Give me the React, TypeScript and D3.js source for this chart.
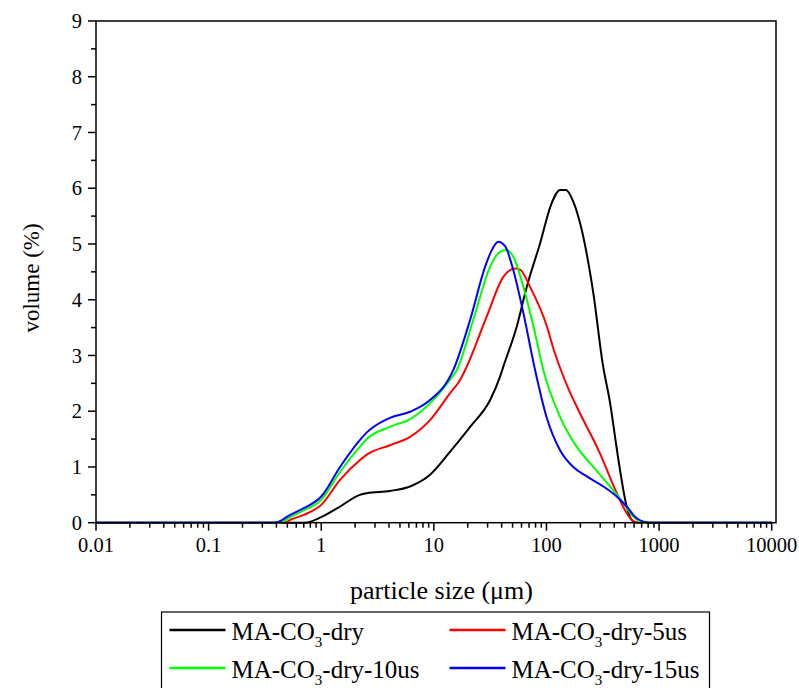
import React from "react";
import * as d3 from "d3";

// ---- data ----
const blackX = [0.01, 0.72, 1.0, 1.47, 2.2, 2.54, 4.08, 6.15, 9.25, 13.9, 21, 31.6, 38.7, 41.4, 54.5, 66.8, 87.7, 111, 132, 149, 173, 199, 261, 316, 367, 436, 516, 572, 650, 10000];
const blackY = [0, 0, 0.1, 0.29, 0.5, 0.53, 0.57, 0.65, 0.86, 1.27, 1.72, 2.2, 2.62, 2.8, 3.52, 4.23, 5.01, 5.73, 5.97, 5.97, 5.76, 5.37, 4.11, 2.85, 2.15, 1.12, 0.29, 0.05, 0, 0];

const redX = [0.01, 0.48, 0.53, 0.7, 1.0, 1.47, 2.2, 2.54, 4.08, 6.15, 9.25, 13.9, 17.1, 19.6, 29.5, 41.4, 52.6, 58.3, 71.5, 101, 115, 132, 160, 199, 299, 421, 516, 572, 650, 10000];
const redY = [0, 0, 0.05, 0.14, 0.32, 0.77, 1.12, 1.22, 1.39, 1.54, 1.84, 2.32, 2.56, 2.8, 3.7, 4.41, 4.56, 4.54, 4.23, 3.52, 3.13, 2.78, 2.36, 1.96, 1.24, 0.53, 0.17, 0.05, 0, 0];

const greenX = [0.01, 0.43, 0.53, 0.7, 1.0, 1.47, 2.2, 2.54, 4.08, 6.15, 9.25, 13.9, 16, 22.4, 31.6, 38.7, 44.4, 50.8, 62.4, 79.2, 93.8, 132, 186, 261, 367, 482, 591, 751, 10000];
const greenY = [0, 0, 0.1, 0.22, 0.41, 0.91, 1.36, 1.5, 1.72, 1.86, 2.14, 2.56, 2.74, 3.64, 4.59, 4.86, 4.89, 4.77, 4.23, 3.4, 2.74, 1.9, 1.36, 1.0, 0.65, 0.35, 0.11, 0, 0];

const blueX = [0.01, 0.39, 0.53, 0.7, 1.0, 1.47, 2.2, 2.54, 4.08, 6.15, 9.25, 14.9, 21, 28.5, 32.7, 37.4, 42.9, 50.8, 62.4, 79.2, 100, 132, 173, 228, 320, 421, 516, 634, 832, 10000];
const blueY = [0, 0, 0.14, 0.26, 0.47, 1.0, 1.48, 1.62, 1.88, 1.99, 2.2, 2.74, 3.64, 4.59, 4.89, 5.04, 4.96, 4.53, 3.76, 2.74, 1.9, 1.3, 1.0, 0.83, 0.65, 0.47, 0.29, 0.08, 0, 0];

const seriesNames = ["MA-CO3-dry", "MA-CO3-dry-5us", "MA-CO3-dry-10us", "MA-CO3-dry-15us"];
const seriesColors = ["#000000", "#ff0000", "#00ff00", "#0000ff"];
const xTickValues = [0.01, 0.1, 1, 10, 100, 1000, 10000];
const xTickLabels = ["0.01", "0.1", "1", "10", "100", "1000", "10000"];
const yTickValues = [0, 1, 2, 3, 4, 5, 6, 7, 8, 9];

const FONT = "Liberation Serif";

export default function App() {
  const W = 799, H = 688;
  const left = 96, right = 776, top = 21, bottom = 522.7;
  const x = d3.scaleLog().domain([0.01, 10000]).range([left, 771.7]);
  const y = d3.scaleLinear().domain([0, 9]).range([bottom, top]);

  const series = [
    { xs: blackX, ys: blackY },
    { xs: redX, ys: redY },
    { xs: greenX, ys: greenY },
    { xs: blueX, ys: blueY },
  ];
  const line = d3
    .line<[number, number]>()
    .x((d) => x(d[0]))
    .y((d) => y(d[1]))
    .curve(d3.curveMonotoneX);

  const minorX: number[] = [];
  for (let e = -2; e < 4; e++) {
    for (let m = 2; m <= 9; m++) minorX.push(m * Math.pow(10, e));
  }
  const minorY = d3.range(0.5, 9, 1);

  const legendRows = [
    { i: 0, lx: 169.5, ly: 630 },
    { i: 1, lx: 449.5, ly: 630 },
    { i: 2, lx: 169.5, ly: 668 },
    { i: 3, lx: 449.5, ly: 668 },
  ];

  const renderName = (name: string) => {
    const idx = name.indexOf("CO3");
    const a = name.slice(0, idx + 2);
    const b = name.slice(idx + 3);
    return (
      <>
        {a}
        <tspan fontSize={15} dy={7.5}>3</tspan>
        <tspan dy={-7.5}>{b}</tspan>
      </>
    );
  };

  const tStyle = { fontFamily: FONT } as React.CSSProperties;

  return (
    <svg
      width={W}
      height={H}
      style={{ position: "absolute", left: 0, top: 0, background: "#fff" }}
    >
      <rect x={0} y={0} width={W} height={H} fill="#fff" />
      {series.map((s, i) => (
        <path
          key={i}
          d={line(s.xs.map((v, k) => [v, s.ys[k]] as [number, number])) || ""}
          fill="none"
          stroke={seriesColors[i]}
          strokeWidth={2}
          strokeLinejoin="round"
        />
      ))}
      {/* frame */}
      <rect x={left} y={top} width={right - left} height={bottom - top} fill="none" stroke="#000" strokeWidth={1.5} />
      {/* x ticks */}
      {xTickValues.map((v, i) => (
        <g key={"xt" + i}>
          <line x1={x(v)} x2={x(v)} y1={bottom} y2={bottom + 8} stroke="#000" strokeWidth={1.5} />
          <text style={tStyle} x={x(v)} y={552} textAnchor="middle" fontSize={20.5}>{xTickLabels[i]}</text>
        </g>
      ))}
      {minorX.map((v, i) => (
        <line key={"xm" + i} x1={x(v)} x2={x(v)} y1={bottom} y2={bottom + 5} stroke="#000" strokeWidth={1.5} />
      ))}
      {/* y ticks */}
      {yTickValues.map((v) => (
        <g key={"yt" + v}>
          <line x1={left - 8} x2={left} y1={y(v)} y2={y(v)} stroke="#000" strokeWidth={1.5} />
          <text style={tStyle} x={82} y={y(v)} dy="0.35em" textAnchor="end" fontSize={20.5}>{v}</text>
        </g>
      ))}
      {minorY.map((v, i) => (
        <line key={"ym" + i} x1={left - 5} x2={left} y1={y(v)} y2={y(v)} stroke="#000" strokeWidth={1.5} />
      ))}
      {/* axis titles */}
      <text style={tStyle} x={441.5} y={599} textAnchor="middle" fontSize={26}>particle size (μm)</text>
      <text style={tStyle} transform="translate(39,278) rotate(-90)" textAnchor="middle" fontSize={23}>volume (%)</text>
      {/* legend */}
      <rect x={161.5} y={612} width={548} height={90} fill="none" stroke="#000" strokeWidth={1.2} />
      {legendRows.map((r) => (
        <g key={"lg" + r.i}>
          <line x1={r.lx} x2={r.lx + 56} y1={r.ly} y2={r.ly} stroke={seriesColors[r.i]} strokeWidth={2.5} />
          <text style={tStyle} x={r.lx + 62} y={r.ly + 9.5} fontSize={25}>{renderName(seriesNames[r.i])}</text>
        </g>
      ))}
    </svg>
  );
}
